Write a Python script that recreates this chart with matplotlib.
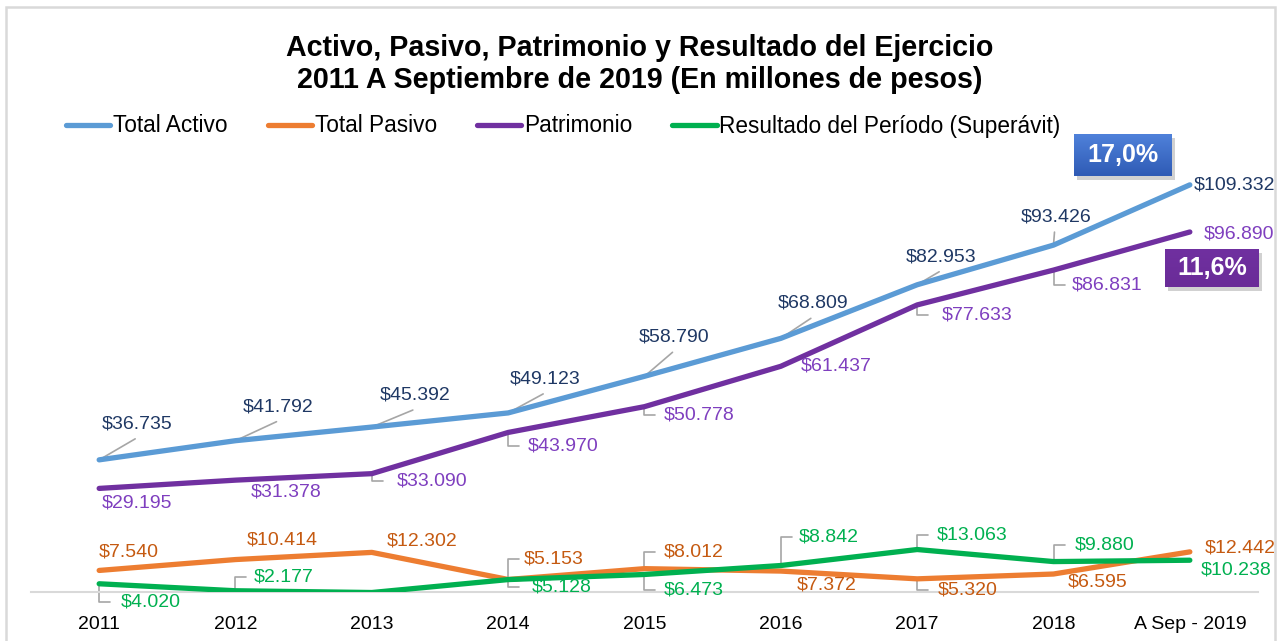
import numpy as np
import matplotlib
matplotlib.use("Agg")
from matplotlib import pyplot as plt
from matplotlib.patches import Rectangle

# data (millones de pesos)
years = ["2011", "2012", "2013", "2014", "2015", "2016", "2017", "2018", "A Sep - 2019"]
activo = [36735, 41792, 45392, 49123, 58790, 68809, 82953, 93426, 109332]
pasivo = [7540, 10414, 12302, 5153, 8012, 7372, 5320, 6595, 12442]
patrimonio = [29195, 31378, 33090, 43970, 50778, 61437, 77633, 86831, 96890]
resultado = [4020, 2177, 1711, 5128, 6473, 8842, 13063, 9880, 10238]
var_activo = "17,0%"
var_patrimonio = "11,6%"

W, H = 1279, 641
NARROW = ["Liberation Sans Narrow", "Liberation Sans", "DejaVu Sans"]
REG = ["Liberation Sans", "DejaVu Sans"]

fig = plt.figure(figsize=(W / 100, H / 100), dpi=100)
ax = fig.add_axes([31 / W, (H - 592) / H, 1227 / W, (592 - 135) / H])

# label offsets in pixels (label centre relative to point) and leader type
off_act = [(38, 36), (43, 34), (43, 32), (37, 34), (30, 39), (32, 35), (24, 28), (3, 28), (45, 0)]
lead_act = ["d", "d", "d", "d", "d", "d", "d", "d", None]
off_pat = [(38, -15), (51, -12), (60, -7), (55, -14), (55, -8), (55, 0), (60, -10), (54, -15), (49, -2)]
lead_pat = [None, None, "b", "b", "b", None, "b", "b", None]
off_pas = [(30, 18), (47, 20), (50, 11), (46, 20), (49, 17), (46, -14), (51, -11), (44, -8), (50, 4)]
lead_pas = [None, None, None, "b", "b", None, "b", None, None]
off_res = [(52, -18), (48, 14), (51, -6), (54, -7), (49, -16), (48, 29), (55, 15), (51, 17), (46, -10)]
lead_res = ["b", "b", "b", "b", "b", "b", "b", "b", None]

series = [
    ("Total Activo", activo, "#5B9BD5", "#1F3864", off_act, lead_act),
    ("Total Pasivo", pasivo, "#ED7D31", "#C55A11", off_pas, lead_pas),
    ("Patrimonio", patrimonio, "#7030A0", "#7F3FBF", off_pat, lead_pat),
    ("Resultado del Período (Superávit)", resultado, "#00B050", "#00B050", off_res, lead_res),
]

x = np.arange(len(years))
lead_col = "#A6A6A6"

for name, vals, col, tcol, offs, leads in series:
    ax.plot(x, vals, color=col, lw=3.8, label=name, solid_capstyle="round", zorder=3)
for name, vals, col, tcol, offs, leads in series:
    for i, v in enumerate(vals):
        dx, dy = offs[i]
        if leads[i] == "d":
            ax.annotate("", xy=(i, v), xytext=(dx - 2, dy - 15), textcoords="offset pixels",
                        arrowprops=dict(arrowstyle="-", color=lead_col, lw=1.2,
                                        shrinkA=0, shrinkB=0), zorder=2)
        elif leads[i] == "b":
            ax.annotate("", xy=(i, v), xytext=(11, dy), textcoords="offset pixels",
                        arrowprops=dict(arrowstyle="-", color=lead_col, lw=1.2,
                                        shrinkA=0, shrinkB=0,
                                        connectionstyle="angle,angleA=0,angleB=90,rad=0"),
                        zorder=2)
        lbl = "$" + f"{v:,}".replace(",", ".")
        ax.annotate(lbl, xy=(i, v), xytext=(dx, dy), textcoords="offset pixels",
                    ha="center", va="center", fontsize=14, color=tcol,
                    family=REG, zorder=4)

ax.set_xlim(-0.5, len(years) - 0.5)
ax.set_ylim(1848, 122492)
ax.set_xticks(x)
ax.set_xticklabels(years, family=NARROW, fontsize=14)
ax.tick_params(axis="x", length=0, pad=17)
ax.set_yticks([])
for s in ["top", "right", "left"]:
    ax.spines[s].set_visible(False)
ax.spines["bottom"].set_color("#D9D9D9")
ax.spines["bottom"].set_linewidth(1.5)
ax.patch.set_alpha(0)

# title
fig.text(640 / W, 1 - 64 / H,
         "Activo, Pasivo, Patrimonio y Resultado del Ejercicio\n2011 A Septiembre de 2019 (En millones de pesos)",
         ha="center", va="center", fontsize=20.6, fontweight="bold", family=NARROW, linespacing=1.22)

# legend
fig.legend(loc="center left", bbox_to_anchor=(66 / W, 1 - 126 / H), ncol=4, frameon=False,
           prop=dict(family=NARROW, size=16.3), handlelength=1.95, handletextpad=0.12,
           columnspacing=1.78, borderpad=0, borderaxespad=0)

# callout boxes
def callout(x0, y0, w, h, text, top, bottom):
    sh = fig.add_axes([(x0 + 3) / W, 1 - (y0 + h + 4) / H, w / W, h / H], zorder=5)
    sh.set_axis_off()
    sh.add_patch(Rectangle((0, 0), 1, 1, transform=sh.transAxes, color="#9A9A9A", alpha=0.45, lw=0))
    bx = fig.add_axes([x0 / W, 1 - (y0 + h) / H, w / W, h / H], zorder=6)
    grad = np.linspace(0, 1, 50)[:, None]
    c1 = np.array(matplotlib.colors.to_rgb(top))
    c2 = np.array(matplotlib.colors.to_rgb(bottom))
    img = c1[None, None, :] * (1 - grad[:, :, None]) + c2[None, None, :] * grad[:, :, None]
    bx.imshow(img, aspect="auto", extent=(0, 1, 0, 1))
    bx.set_axis_off()
    bx.text(0.5, 0.5, text, ha="center", va="center", color="white", fontsize=18,
            fontweight="bold", family=REG, transform=bx.transAxes)

callout(1074, 134, 98, 42, var_activo, "#4F81DA", "#2F5BB5")
callout(1165, 249, 94, 38, var_patrimonio, "#7030A0", "#6A2C98")

# outer border
fig.add_artist(Rectangle((6 / W, -0.01), 1269 / W, 1 - 7 / H + 0.01, transform=fig.transFigure,
                         fill=False, edgecolor="#D9D9D9", lw=1.8, zorder=10))

fig.savefig("out.png", dpi=100)
